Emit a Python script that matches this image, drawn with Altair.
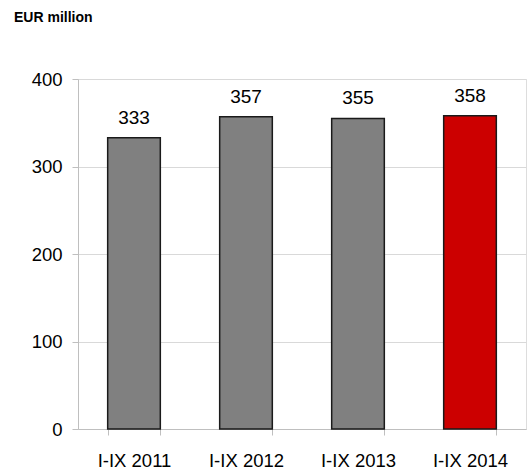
import altair as alt
import pandas as pd

periods = ["I-IX 2011", "I-IX 2012", "I-IX 2013", "I-IX 2014"]
values = [333, 357, 355, 358]
colors = ["#808080", "#808080", "#808080", "#CC0000"]
unit_title = ["EUR million"]

df = pd.DataFrame({"period": periods, "value": values, "color": colors})

FONT = "Liberation Sans"

base = alt.Chart(df).encode(
    x=alt.X("period:N", sort=periods, title=None,
            scale=alt.Scale(paddingInner=0.53, paddingOuter=0.265),
            axis=alt.Axis(labelAngle=0, labelFont=FONT, labelFontSize=18.5,
                          labelColor="#000000", domainColor="#bfbfbf",
                          tickColor="#bfbfbf", tickSize=6, tickBand="extent",
                          labelPadding=16, grid=False)),
    y=alt.Y("value:Q", title=None,
            scale=alt.Scale(domain=[0, 400], nice=False),
            axis=alt.Axis(values=[0, 100, 200, 300, 400], labelFont=FONT,
                          labelFontSize=18.5, labelColor="#000000",
                          domainColor="#bfbfbf", tickColor="#bfbfbf",
                          gridColor="#d9d9d9", tickSize=6, labelPadding=10)),
)

bars = base.mark_bar(stroke="#1a1a1a", strokeWidth=1.5).encode(
    color=alt.Color("color:N", scale=None)
)

labels = base.mark_text(font=FONT, fontSize=19, baseline="alphabetic",
                        dy=-14, color="#000000").encode(text="value:Q")

title = alt.Chart(pd.DataFrame({"t": unit_title})).mark_text(
    font=FONT, fontSize=14, fontWeight="bold", align="left",
    baseline="alphabetic", color="#000000"
).encode(x=alt.value(-64), y=alt.value(-57), text="t:N")

chart = (bars + labels + title).properties(
    width=448, height=350,
    autosize=alt.AutoSizeParams(type="none"),
    padding={"left": 78, "top": 79, "right": 4, "bottom": 42},
).configure_view(stroke=None).configure(background="white")

chart.save("out.html", embed_options={"renderer": "svg", "actions": False})
